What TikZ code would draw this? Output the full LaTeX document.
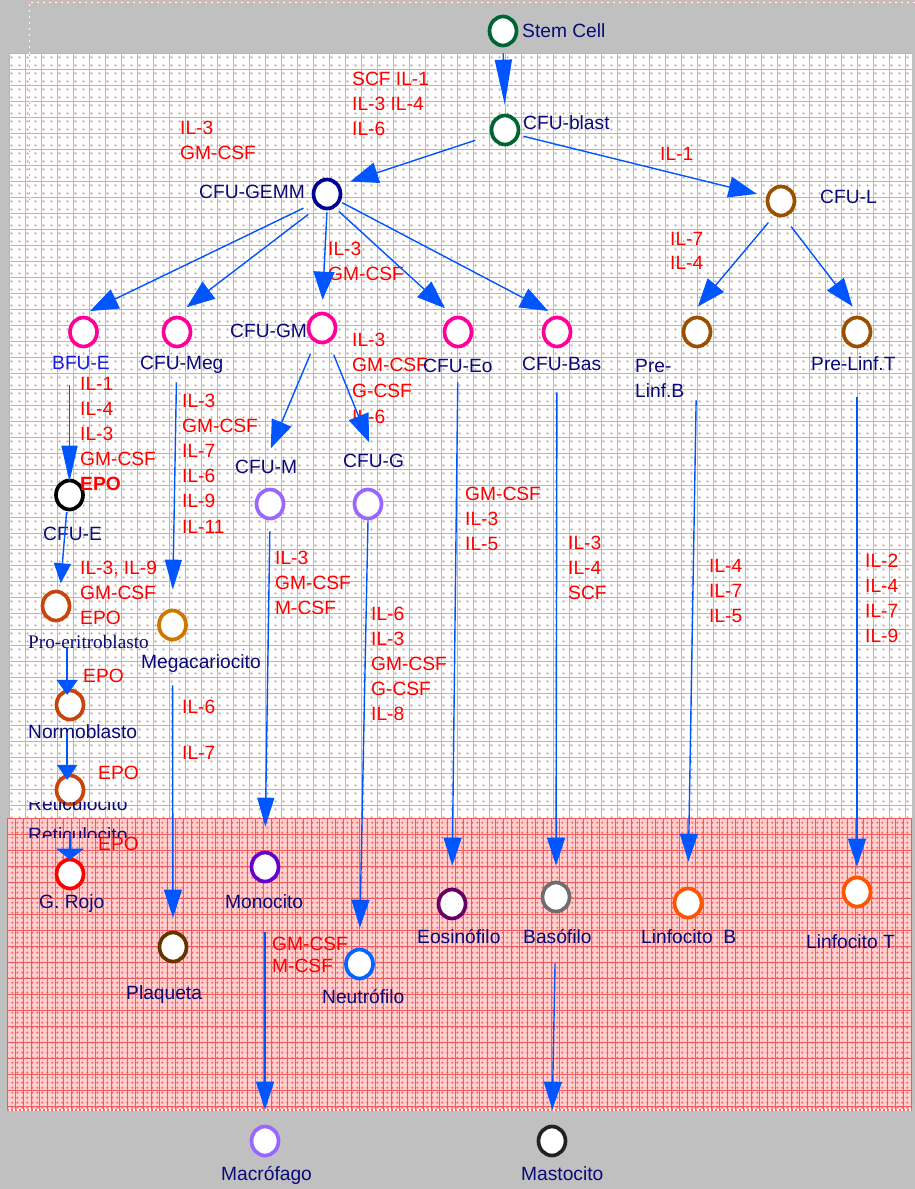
\documentclass[tikz,border=0pt]{standalone}
\usepackage{fontspec}
\setmainfont{Liberation Sans}
\newfontfamily\timesface{Liberation Serif}
\usetikzlibrary{shapes.geometric, arrows.meta, patterns}

\definecolor{bggray}{RGB}{192,192,192}
\definecolor{gridgray}{RGB}{190,180,180}
\definecolor{dotpink}{RGB}{255,160,140}
\definecolor{densebg}{RGB}{255,208,208}
\definecolor{densedot}{RGB}{255,105,105}
\definecolor{densegrid}{RGB}{236,92,92}
\definecolor{navy}{RGB}{10,10,120}
\definecolor{brightnavy}{RGB}{25,25,225}
\definecolor{cytored}{RGB}{255,0,0}
\definecolor{linkblue}{RGB}{0,85,255}
\definecolor{cgreen}{RGB}{0,100,50}
\definecolor{cnavy}{RGB}{0,0,150}
\definecolor{cbrown}{RGB}{153,80,0}
\definecolor{cmagenta}{RGB}{255,0,153}
\definecolor{clilac}{RGB}{153,102,255}
\definecolor{crust}{RGB}{200,68,10}
\definecolor{corange}{RGB}{204,119,0}
\definecolor{cpurple}{RGB}{102,0,204}
\definecolor{cdarkbrown}{RGB}{102,51,0}
\definecolor{cblue}{RGB}{0,102,255}
\definecolor{cplum}{RGB}{102,0,102}
\definecolor{cgray}{RGB}{110,110,110}
\definecolor{cflame}{RGB}{255,85,0}
\definecolor{cblack}{RGB}{34,34,34}

% dotted textures of the two paper fields
\pgfdeclarepatternformonly{paledots}{\pgfqpoint{0pt}{0pt}}{\pgfqpoint{8pt}{8pt}}{\pgfqpoint{8pt}{8pt}}{%
  \pgfpathcircle{\pgfqpoint{4pt}{4pt}}{1.5pt}\pgfusepath{fill}}
\pgfdeclarepatternformonly{densedots}{\pgfqpoint{0pt}{0pt}}{\pgfqpoint{5.333pt}{5.333pt}}{\pgfqpoint{5.333pt}{5.333pt}}{%
  \pgfpathcircle{\pgfqpoint{2.667pt}{2.667pt}}{1.4pt}\pgfusepath{fill}}

% a column of cytokine names, one node per line
\newcommand\cytostack[5]{%
  \foreach \txt [count=\k from 0] in {#5}
    \node[cyto] (#1\k) at (#2, #3+#4*\k) {\txt};}

\begin{document}
\begin{tikzpicture}[x=1pt, y=-1pt,
  cell/.style={ellipse, draw=#1, fill=white, line width=3.7pt,
               minimum width=27pt, minimum height=29pt, inner sep=0pt},
  lbl/.style={text=navy, font=\fontsize{19.2}{23}\selectfont, inner sep=0pt, anchor=base west},
  cyto/.style={text=cytored, font=\fontsize{19.2}{23}\selectfont, inner sep=0pt, anchor=base west},
  link/.style={draw=linkblue, line width=1.4pt, -{Triangle[length=28pt,width=18pt]}},
  slant/.style={-{Triangle[length=28pt,width=21pt]}},
  gridline/.style={draw=gridgray, line width=0.9pt},
  densegridline/.style={draw=densegrid, line width=0.7pt}]

\useasboundingbox (0,0) rectangle (915,1189);
\fill[bggray] (0,0) rectangle (915,1189);

% pale squared field
\fill[white] (9.3,53.3) rectangle (912,818);
\fill[pattern=paledots, pattern color=dotpink] (9.3,53.3) rectangle (912,818);
\foreach \x in {9.3,25.3,...,912} \draw[gridline] (\x,53.3) -- (\x,818);
\foreach \y in {53.3,69.3,...,818} \draw[gridline] (9.3,\y) -- (912,\y);

% dense squared field
\fill[densebg] (7.3,818) rectangle (912,1110);
\fill[pattern=densedots, pattern color=densedot] (7.3,818) rectangle (912,1110);
\foreach \x in {7.3,15.3,...,912} \draw[densegridline] (\x,818) -- (\x,1110);
\foreach \y in {818,834,...,1110} \draw[densegridline] (7.3,\y) -- (912,\y);
\draw[white, line width=1.5pt] (7.3,1110) -- (912,1110);
\draw[densedot, line width=1.5pt, dash pattern=on 2pt off 2pt] (7.3,1110) -- (912,1110);

% dashed frame of the title band
\draw[white, line width=1pt, dash pattern=on 4pt off 2pt] (29,200) -- (29,2) -- (915,2);
\draw[dotpink, line width=1pt, dash pattern=on 2pt off 4pt] (29,200) -- (29,2) -- (915,2);

% cells
\node[cell=cgreen]     (stem)   at (503,31)   {};
\node[cell=cgreen]     (blast)  at (505,130)  {};
\node[cell=cnavy]      (gemm)   at (327,194)  {};
\node[cell=cbrown]     (cfuL)   at (781,201)  {};
\node[cell=cmagenta]   (bfue)   at (83.5,332) {};
\node[cell=cmagenta]   (meg)    at (177,332)  {};
\node[cell=cmagenta]   (gm)     at (322,328)  {};
\node[cell=cmagenta]   (eo)     at (458,332)  {};
\node[cell=cmagenta]   (bas)    at (557,332)  {};
\node[cell=cbrown]     (plb)    at (697,332)  {};
\node[cell=cbrown]     (plt)    at (857,332)  {};
\node[cell=black]      (cfuE)   at (69.5,495) {};
\node[cell=clilac]     (cfuM)   at (270,504)  {};
\node[cell=clilac]     (cfuG)   at (368,504)  {};
\node[cell=crust]      (proeri) at (56,606)   {};
\node[cell=corange]    (mega)   at (172.5,625){};
\node[cell=crust]      (normo)  at (70,705)   {};
\node[cell=crust]      (retic)  at (70,790)   {};
\node[cell=red]        (grojo)  at (70,874)   {};
\node[cell=cpurple]    (mono)   at (265,867)  {};
\node[cell=cdarkbrown] (plaq)   at (173,947)  {};
\node[cell=cblue]      (neutro) at (359.5,964){};
\node[cell=cplum]      (eosin)  at (452,904)  {};
\node[cell=cgray]      (baso)   at (556,897)  {};
\node[cell=cflame]     (linfB)  at (688,903)  {};
\node[cell=cflame]     (linfT)  at (857,892)  {};
\node[cell=clilac]     (macro)  at (265,1141) {};
\node[cell=cblack]     (masto)  at (552,1141) {};

% cell names
\node[lbl] (stemLbl)   at (522,37)   {Stem Cell};
\node[lbl] (blastLbl)  at (523,129)  {CFU-blast};
\node[lbl] (gemmLbl)   at (199,198)  {CFU-GEMM};
\node[lbl] (cfuLLbl)   at (820,203)  {CFU-L};
\node[lbl, text=brightnavy] (bfueLbl) at (52,369) {BFU-E};
\node[lbl] (megLbl)    at (140,369)  {CFU-Meg};
\node[lbl] (gmLbl)     at (230,337)  {CFU-GM};
\node[lbl] (basLbl)    at (522,370)  {CFU-Bas};
\node[lbl] (plbLbl)    at (635,372)  {Pre-};
\node[lbl] (plbLblB)   at (635,397)  {Linf.B};
\node[lbl] (pltLbl)    at (811,370)  {Pre-Linf.T};
\node[lbl] (cfuELbl)   at (43,540)   {CFU-E};
\node[lbl] (cfuMLbl)   at (235,473)  {CFU-M};
\node[lbl] (cfuGLbl)   at (343,467)  {CFU-G};
\node[lbl, font=\timesface\fontsize{19.2}{23}\selectfont] (proeriLbl) at (28,648) {Pro-eritroblasto};
\node[lbl] (megaLbl)   at (141,668)  {Megacariocito};
\node[lbl] (normoLbl)  at (28,738)   {Normoblasto};
\begin{scope}
  \clip (0,802) rectangle (200,818);
  \node[lbl] (reticLbl) at (28,810) {Reticulocito};
\end{scope}
\begin{scope}
  \clip (0,818) rectangle (200,837);
  \node[lbl] (reticLblB) at (28,841) {Reticulocito};
\end{scope}
\node[lbl] (grojoLbl)  at (39,908)   {G. Rojo};
\node[lbl] (monoLbl)   at (225,908)  {Monocito};
\node[lbl] (plaqLbl)   at (126,999)  {Plaqueta};
\node[lbl] (neutroLbl) at (322,1003) {Neutrófilo};
\node[lbl] (eosinLbl)  at (417,943)  {Eosinófilo};
\node[lbl] (basoLbl)   at (523,943)  {Basófilo};
\node[lbl] (linfBLbl)  at (641,943)  {Linfocito~~B};
\node[lbl] (linfTLbl)  at (806,948)  {Linfocito T};
\node[lbl] (macroLbl)  at (221,1180) {Macrófago};
\node[lbl] (mastoLbl)  at (521,1180) {Mastocito};

% growth factors
\cytostack{scf}{352}{85}{25}{SCF IL-1, IL-3 IL-4, IL-6}
\cytostack{gmA}{180}{134}{25}{IL-3, GM-CSF}
\cytostack{ilA}{660}{160}{25}{IL-1}
\cytostack{gmB}{328}{255}{25}{IL-3, GM-CSF}
\cytostack{ilB}{670}{245}{24}{IL-7, IL-4}
\cytostack{gmC}{352}{346}{25.7}{IL-3, GM-CSF, G-CSF, IL-6}
\node[lbl] (eoLbl) at (423,372) {CFU-Eo};
\cytostack{bfu}{80}{390}{25}{IL-1, IL-4, IL-3, GM-CSF, \textbf{EPO}}
\cytostack{mg}{182}{407}{25.2}{IL-3, GM-CSF, IL-7, IL-6, IL-9, IL-11}
\cytostack{ce}{80}{574}{25}{{IL-3, IL-9}, GM-CSF, EPO}
\cytostack{epA}{83}{682}{25}{EPO}
\cytostack{ilC}{182}{713}{25}{IL-6}
\cytostack{ilD}{182}{759}{25}{IL-7}
\cytostack{epB}{98}{779}{25}{EPO}
\cytostack{epC}{98}{850}{25}{EPO}
\cytostack{mo}{275}{564}{25}{IL-3, GM-CSF, M-CSF}
\cytostack{ne}{371}{620}{25}{IL-6, IL-3, GM-CSF, G-CSF, IL-8}
\cytostack{eo}{465}{500}{25}{GM-CSF, IL-3, IL-5}
\cytostack{ba}{568}{549}{25}{IL-3, IL-4, SCF}
\cytostack{lb}{709}{572}{25}{IL-4, IL-7, IL-5}
\cytostack{lt}{865}{567}{25}{IL-2, IL-4, IL-7, IL-9}
\cytostack{ma}{272}{950}{22}{GM-CSF, M-CSF}

% lineage arrows
\draw[link, -{Triangle[length=45pt,width=17pt]}, shorten <=6pt, shorten >=9pt] (stem.south) -- (blast.north);
\draw[link, slant, shorten <=16pt, shorten >=11pt] (blast.200) -- (gemm.35);
\draw[link, slant, shorten <=4pt, shorten >=10pt] (blast.340) -- (cfuL.162);
\draw[link, slant, shorten <=12pt, shorten >=12pt] (gemm.215) -- (bfue.105);
\draw[link, slant, shorten <=12pt, shorten >=14pt] (gemm.235) -- (meg.95);
\draw[link, slant, shorten <=2pt, shorten >=12pt] (gemm.south) -- (gm.north);
\draw[link, slant, shorten <=5pt, shorten >=12pt] (gemm.300) -- (eo.105);
\draw[link, slant, shorten <=2pt, shorten >=10pt] (gemm.330) -- (bas.north);
\draw[link, slant, shorten <=9pt, shorten >=20pt] (cfuL.245) -- (plb.140);
\draw[link, slant, shorten <=12pt, shorten >=12pt] (cfuL.280) -- (plt.80);
\draw[link, slant, shorten <=12pt, shorten >=12pt] (gm.245) -- (cfuMLbl.north);
\draw[link, slant, shorten <=13pt, shorten >=12pt] (gm.295) -- (cfuGLbl.north);
\draw[link, -{Triangle[length=36pt,width=16pt]}, shorten <=16pt, shorten >=-3pt] (bfueLbl.south -| cfuE.north) -- (cfuE.north);
\draw[link, -{Triangle[length=30pt,width=17pt]}, shorten <=34pt, shorten >=19pt] (meg.south) -- (mega.north);
\draw[link, -{Triangle[length=20pt,width=17pt]}, shorten <=1pt, shorten >=7pt] (cfuE.260) -- (proeri.75);
\draw[link, -{Triangle[length=15pt,width=21pt]}, shorten >=-6pt] (proeriLbl.south -| normo.100) -- (normo.100);
\draw[link, -{Triangle[length=15pt,width=20pt]}, shorten <=-5pt, shorten >=-6pt] (normoLbl.south -| retic.100) -- (retic.100);
\draw[link, -{Triangle[length=11pt,width=28pt]}, shorten <=27pt, shorten >=-2pt] (retic.south) -- (grojo.north);
\draw[link, shorten <=44pt, shorten >=13pt] (mega.south) -- (plaq.north);
\draw[link, -{Triangle[length=29pt,width=17pt]}, shorten <=11pt, shorten >=24pt] (cfuM.south) -- (mono.north);
\draw[link, shorten >=20pt] (cfuG.south) -- (neutro.north);
\draw[link, shorten <=10pt, shorten >=22pt] (eoLbl.south) -- (eosin.north);
\draw[link, shorten <=44pt, shorten >=15pt] (bas.south) -- (baso.north);
\draw[link, shorten <=52pt, shorten >=25pt] (plb.south) -- (linfB.north);
\draw[link, shorten <=49pt, shorten >=9pt] (plt.south) -- (linfT.north);
\draw[link, shorten <=49pt, shorten >=15pt] (mono.south) -- (macro.north);
\draw[link, shorten <=50pt, shorten >=15pt] (baso.south) -- (masto.north);

\end{tikzpicture}
\end{document}
